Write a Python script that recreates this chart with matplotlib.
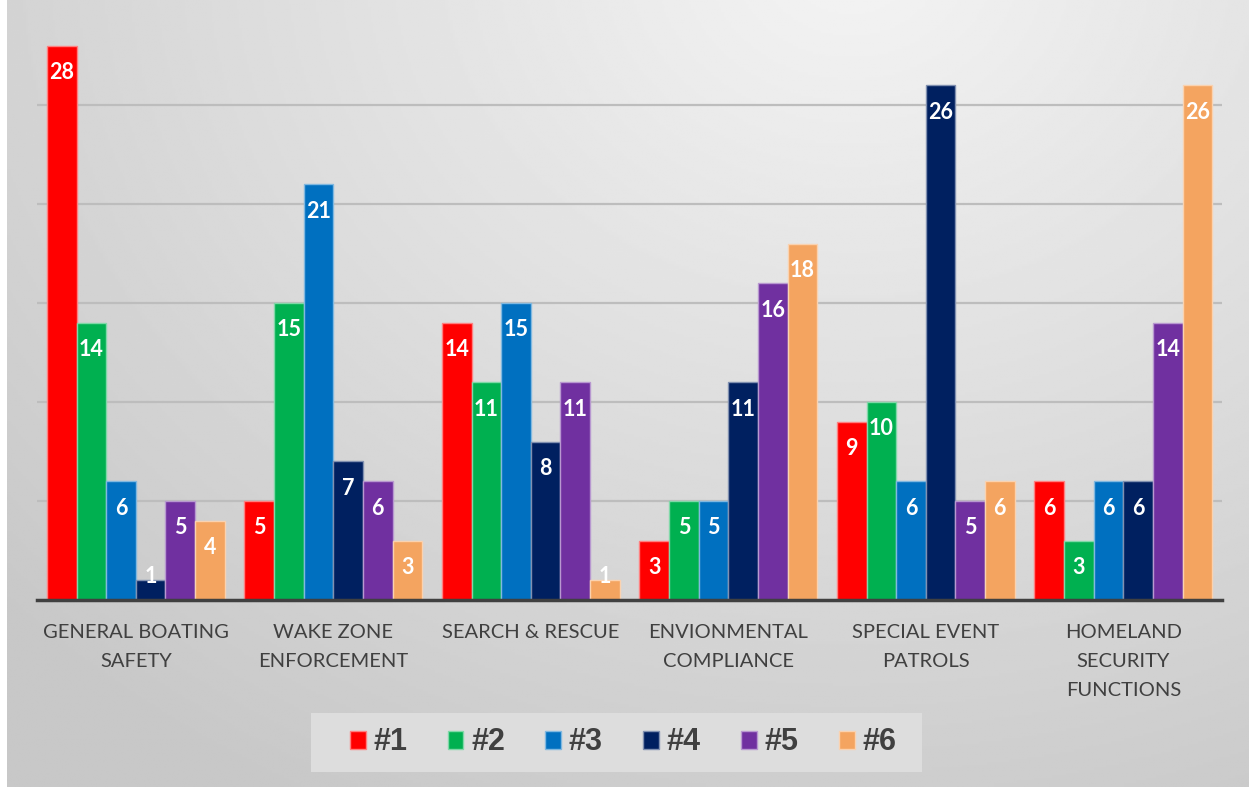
import numpy as np
import matplotlib
matplotlib.use("Agg")
import matplotlib.pyplot as plt
from matplotlib.patches import Patch, Rectangle

categories = ["GENERAL BOATING\nSAFETY", "WAKE ZONE\nENFORCEMENT", "SEARCH & RESCUE",
              "ENVIONMENTAL\nCOMPLIANCE", "SPECIAL EVENT\nPATROLS", "HOMELAND\nSECURITY\nFUNCTIONS"]
series_names = ["#1", "#2", "#3", "#4", "#5", "#6"]
s1 = [28, 5, 14, 3, 9, 6]
s2 = [14, 15, 11, 5, 10, 3]
s3 = [6, 21, 15, 5, 6, 6]
s4 = [1, 7, 8, 11, 26, 6]
s5 = [5, 6, 11, 16, 5, 14]
s6 = [4, 3, 1, 18, 6, 26]
colors = ["#ff0000", "#00b050", "#0070c0", "#002060", "#7030a0", "#f4a460"]
edge_colors = ["#ff8080", "#80d8a8", "#80b8e0", "#8090b0", "#b898d0", "#fad2b0"]

W, H = 1249, 787
fig = plt.figure(figsize=(W / 100, H / 100), dpi=100, facecolor="white")

# gradient background
bg = fig.add_axes([7 / W, 0, 1 - 7 / W, 1])
yy, xx = np.mgrid[0:1:300j, 0:1:500j]
d = np.sqrt(((xx - 0.68) * 1.3) ** 2 + ((yy + 0.05) * 1.0) ** 2)
shade = 0.955 - 0.17 * np.clip(d, 0, 1.2) / 1.2
bg.imshow(shade, cmap="gray", vmin=0, vmax=1, aspect="auto", extent=[0, 1, 1, 0])
bg.axis("off")

# legend box
fig.patches.append(Rectangle((311 / W, 1 - 772 / H), 611 / W, 59 / H,
                             transform=fig.transFigure, facecolor="#dddddd",
                             edgecolor="none", zorder=1))

ax = fig.add_axes([37 / W, (H - 600) / H, 1185 / W, 594 / H])
ax.set_facecolor("none")
ax.set_xlim(-0.5, 5.5)
ax.set_ylim(0, 30)

data = [s1, s2, s3, s4, s5, s6]
x = np.arange(len(categories))
bw = 0.15
for i, vals in enumerate(data):
    xs = x - 0.375 + i * bw
    ax.bar(xs, vals, width=bw, color=colors[i], edgecolor=edge_colors[i],
           linewidth=1.0, zorder=3)
    for xi, v in zip(xs, vals):
        ax.text(xi, max(v - 1.36, 1.2), str(v), ha="center", va="center",
                color="white", fontsize=15.5, fontweight="bold",
                family="Lato", zorder=4)

ax.set_yticks([5, 10, 15, 20, 25])
ax.yaxis.grid(True, color="#bdbdbd", linewidth=1.6, zorder=0)
ax.tick_params(axis="y", left=False, labelleft=False)
ax.set_xticks(x)
ax.set_xticklabels(categories, fontsize=14.5, color="#404040", family="Lato",
                   linespacing=1.85, va="top")
ax.tick_params(axis="x", bottom=False, pad=14)
for s in ["top", "left", "right"]:
    ax.spines[s].set_visible(False)
ax.spines["bottom"].set_color("#404040")
ax.spines["bottom"].set_linewidth(2.5)
ax.spines["bottom"].set_zorder(5)

handles = [Patch(facecolor=c, edgecolor=e, linewidth=1.0) for c, e in zip(colors, edge_colors)]
leg = fig.legend(handles, series_names, loc="center", bbox_to_anchor=(623 / W, 1 - 742.5 / H),
                 ncol=6, frameon=False, handlelength=0.52, handleheight=0.52,
                 handletextpad=0.25, columnspacing=1.32,
                 prop={"family": "Liberation Sans", "weight": "bold", "size": 22})
for t in leg.get_texts():
    t.set_color("#404040")

fig.savefig("out.png", dpi=100, facecolor="white")
